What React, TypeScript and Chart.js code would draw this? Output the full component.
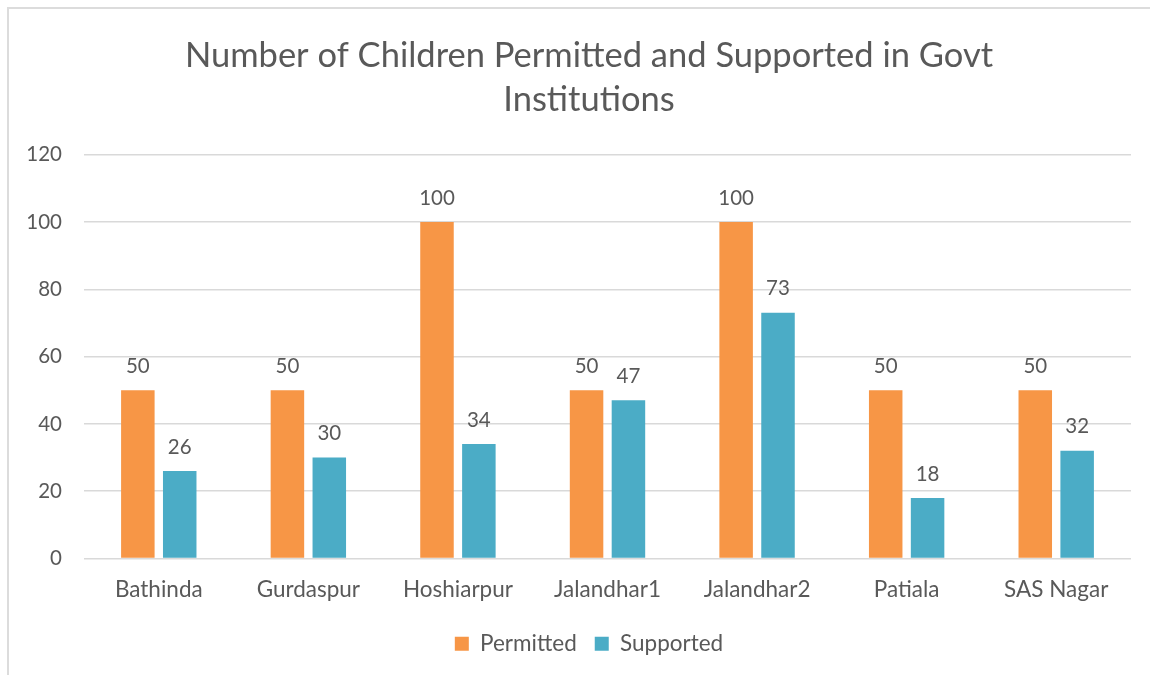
import React, { useEffect, useRef } from "react";
import { Chart, registerables } from "chart.js";

Chart.register(...registerables);

const titleLines = ["Number of Children Permitted and Supported in Govt", "Institutions"];
const categories = ["Bathinda", "Gurdaspur", "Hoshiarpur", "Jalandhar1", "Jalandhar2", "Patiala", "SAS Nagar"];
const permitted = [50, 50, 100, 50, 100, 50, 50];
const supported = [26, 30, 34, 47, 73, 18, 32];
const seriesNames = ["Permitted", "Supported"];
const yMin = 0;
const yMax = 120;
const yStep = 20;

const FONT = "Lato, 'Open Sans', sans-serif";
const TEXT = "#595959";

const dataLabelPlugin = {
  id: "valueLabels",
  afterDatasetsDraw(chart: any) {
    const ctx = chart.ctx;
    ctx.save();
    ctx.font = `20.5px ${FONT}`;
    ctx.fillStyle = TEXT;
    ctx.textAlign = "center";
    ctx.textBaseline = "middle";
    chart.data.datasets.forEach((ds: any, i: number) => {
      const meta = chart.getDatasetMeta(i);
      meta.data.forEach((el: any, j: number) => {
        ctx.fillText(String(ds.data[j]), el.x, el.y - 24);
      });
    });
    ctx.restore();
  },
};

// widen the y-axis label clip region to the canvas edge (labels sit inside layout padding)
const yLabelAreaPlugin = {
  id: "yLabelArea",
  afterLayout(chart: any) {
    if (chart.scales.y) chart.scales.y.left = 0;
  },
};

export default function App() {
  const ref = useRef<HTMLCanvasElement | null>(null);
  useEffect(() => {
    if (!ref.current) return;
    const chart = new Chart(ref.current, {
      type: "bar",
      data: {
        labels: categories,
        datasets: [
          { label: seriesNames[0], data: permitted, backgroundColor: "#F79646", categoryPercentage: 0.56, barPercentage: 0.8 },
          { label: seriesNames[1], data: supported, backgroundColor: "#4BACC6", categoryPercentage: 0.56, barPercentage: 0.8 },
        ],
      },
      options: {
        responsive: false,
        animation: false,
        layout: { padding: { left: 47, right: 19, top: 0, bottom: 10 } },
        plugins: {
          title: {
            display: true,
            text: titleLines,
            color: TEXT,
            font: { family: FONT, size: 34.5, weight: "normal", lineHeight: 1.3 },
            padding: { top: 33, bottom: 32 },
          },
          legend: {
            position: "bottom",
            labels: {
              color: TEXT,
              font: { family: FONT, size: 22.5 },
              boxWidth: 14,
              boxHeight: 14,
              padding: 18,
            },
          },
          tooltip: { enabled: false },
        },
        scales: {
          x: {
            grid: { display: false, drawTicks: false },
            border: { display: false },
            ticks: { color: TEXT, font: { family: FONT, size: 22.5 }, padding: 18 },
            afterFit(scale: any) {
              scale.height = 56;
            },
          },
          y: {
            min: yMin,
            max: yMax,
            grid: { color: "#d9d9d9", lineWidth: 1.5, drawTicks: false },
            border: { display: false },
            ticks: { stepSize: yStep, color: TEXT, font: { family: FONT, size: 20.5 }, padding: 22 },
            afterFit(scale: any) {
              scale.width = 37;
            },
          },
        },
      },
      plugins: [dataLabelPlugin, yLabelAreaPlugin],
    });
    return () => chart.destroy();
  }, []);

  return (
    <div style={{ position: "fixed", left: 0, top: 0, width: 1150, height: 675, background: "#fff", overflow: "hidden" }}>
      <div
        style={{
          position: "absolute",
          left: 7,
          top: 7,
          width: 1200,
          height: 700,
          borderLeft: "2px solid #dcdcdc",
          borderTop: "2px solid #dcdcdc",
        }}
      />
      <canvas ref={ref} width={1150} height={675} style={{ position: "absolute", left: 0, top: 0 }} />
    </div>
  );
}
